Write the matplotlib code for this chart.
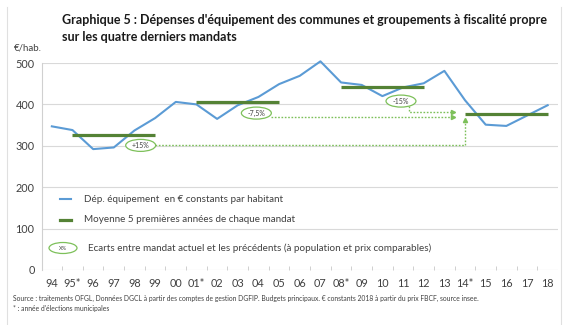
import matplotlib
matplotlib.use("Agg")
import matplotlib.pyplot as plt
from matplotlib.patches import Ellipse
from matplotlib.lines import Line2D

# data
years = ["94", "95*", "96", "97", "98", "99", "00", "01*", "02", "03", "04", "05", "06",
         "07", "08*", "09", "10", "11", "12", "13", "14*", "15", "16", "17", "18"]
depenses = [347, 338, 292, 296, 337, 367, 406, 400, 365, 398, 418, 449, 469,
            504, 453, 447, 420, 441, 451, 481, 410, 351, 348, 373, 398]
# first year index and last year index of the 5-year mean for each mandate
mandat_start = [1, 7, 14, 20]
mandat_end = [5, 11, 18, 24]
mandat_mean = [325, 407, 441, 378]
ecarts = ["+15%", "-7,5%", "-15%"]

W, H = 570, 325
BLUE = "#5B9BD5"
GREEN = "#548235"
LGREEN = "#7DC05A"
plt.rcParams["font.family"] = ["Lato", "DejaVu Sans"]

fig = plt.figure(figsize=(W / 100, H / 100), dpi=100)


def fx(x):
    return x / W


def fy(y):
    return 1 - y / H


ax = fig.add_axes([fx(41.5), fy(270), (558 - 41.5) / W, (270 - 63) / H])

x = range(len(years))
ax.plot(x, depenses, color=BLUE, lw=1.5, clip_on=False, zorder=3)
for s, e, m in zip(mandat_start, mandat_end, mandat_mean):
    ax.plot([s, e], [m, m], color=GREEN, lw=2.3, solid_capstyle="butt", zorder=4)

ax.set_xlim(-0.5, len(years) - 0.5)
ax.set_ylim(0, 500)
ax.set_yticks(range(0, 501, 100))
ax.set_xticks(list(x))
ax.set_xticklabels(years)
ax.set_xticks([i + 0.5 for i in range(len(years) - 1)], minor=True)
ax.tick_params(axis="x", which="major", length=0, pad=6, labelsize=7.8, labelcolor="#404040")
ax.tick_params(axis="x", which="minor", length=3, direction="in", color="#C8C8C8", width=0.6)
ax.tick_params(axis="y", length=0, pad=5, labelsize=7.8, labelcolor="#404040")
ax.grid(axis="y", color="#D9D9D9", lw=0.8)
ax.set_axisbelow(True)
for side in ["top", "right", "bottom"]:
    ax.spines[side].set_visible(False)
ax.spines["left"].set_color("#D0D0D0")
ax.spines["left"].set_linewidth(0.8)

# ecart annotations (dotted paths to the last mandate)
dot = dict(color=LGREEN, lw=1.0, ls=(0, (1.2, 1.2)), zorder=2)
last = mandat_mean[-1]
paths = [
    ([5.0, 20, 20], [303, 303, last - 16], "^", (4.3, 301)),
    ([10.6, 19.4], [369, 369], ">", (9.9, 379)),
    ([17.3, 17.3, 19.4], [397, 382, 382], ">", (16.9, 408)),
]
for (px_, py_, mk, (cx, cy)), lab in zip(paths, ecarts):
    ax.plot(px_, py_, **dot)
    ax.plot(px_[-1], py_[-1], marker=mk, ms=3, color=LGREEN, zorder=2)
    ax.add_patch(Ellipse((cx, cy), 1.45, 29, facecolor="white", edgecolor=LGREEN, lw=0.9, zorder=5))
    ax.text(cx, cy, lab, ha="center", va="center", fontsize=5, color="#404040", zorder=6)

# legend drawn by hand
fig.add_artist(Line2D([fx(60), fx(71)], [fy(199), fy(199)], color=BLUE, lw=1.5))
fig.text(fx(84), fy(199), "Dép. équipement  en € constants par habitant", fontsize=7.1,
         color="#404040", va="center")
fig.add_artist(Line2D([fx(60), fx(71)], [fy(220), fy(220)], color=GREEN, lw=2.3))
fig.text(fx(84), fy(220), "Moyenne 5 premières années de chaque mandat", fontsize=7.1,
         color="#404040", va="center")
fig.add_artist(Ellipse((fx(63), fy(248)), 28 / W, 11 / H, transform=fig.transFigure,
                       facecolor="white", edgecolor=LGREEN, lw=0.9))
fig.text(fx(63), fy(248), "X%", fontsize=4, color="#404040", ha="center", va="center")
fig.text(fx(88), fy(248), "Ecarts entre mandat actuel et les précédents (à population et prix comparables)",
         fontsize=7.1, color="#404040", va="center")

# titles and notes
fig.text(fx(62), fy(20), "Graphique 5 : Dépenses d'équipement des communes et groupements à fiscalité propre",
         fontsize=9.0, fontweight="bold", color="#1A1A1A", va="center")
fig.text(fx(62), fy(37), "sur les quatre derniers mandats", fontsize=9.0, fontweight="bold",
         color="#1A1A1A", va="center")
fig.text(fx(28), fy(48), "€/hab.", fontsize=7, color="#404040", ha="center", va="center")
fig.text(fx(13), fy(298), "Source : traitements OFGL, Données DGCL à partir des comptes de gestion DGFIP. "
         "Budgets principaux. € constants 2018 à partir du prix FBCF, source insee.",
         fontsize=4.9, color="#404040", va="center")
fig.text(fx(13), fy(309), "* : année d'élections municipales", fontsize=4.9, color="#404040", va="center")

# light frame edges
fig.add_artist(Line2D([fx(7), fx(7)], [fy(7), fy(325)], color="#E0E0E0", lw=0.8))
fig.add_artist(Line2D([fx(561), fx(561)], [fy(7), fy(325)], color="#E0E0E0", lw=0.8))

fig.savefig("out.png", dpi=100)
